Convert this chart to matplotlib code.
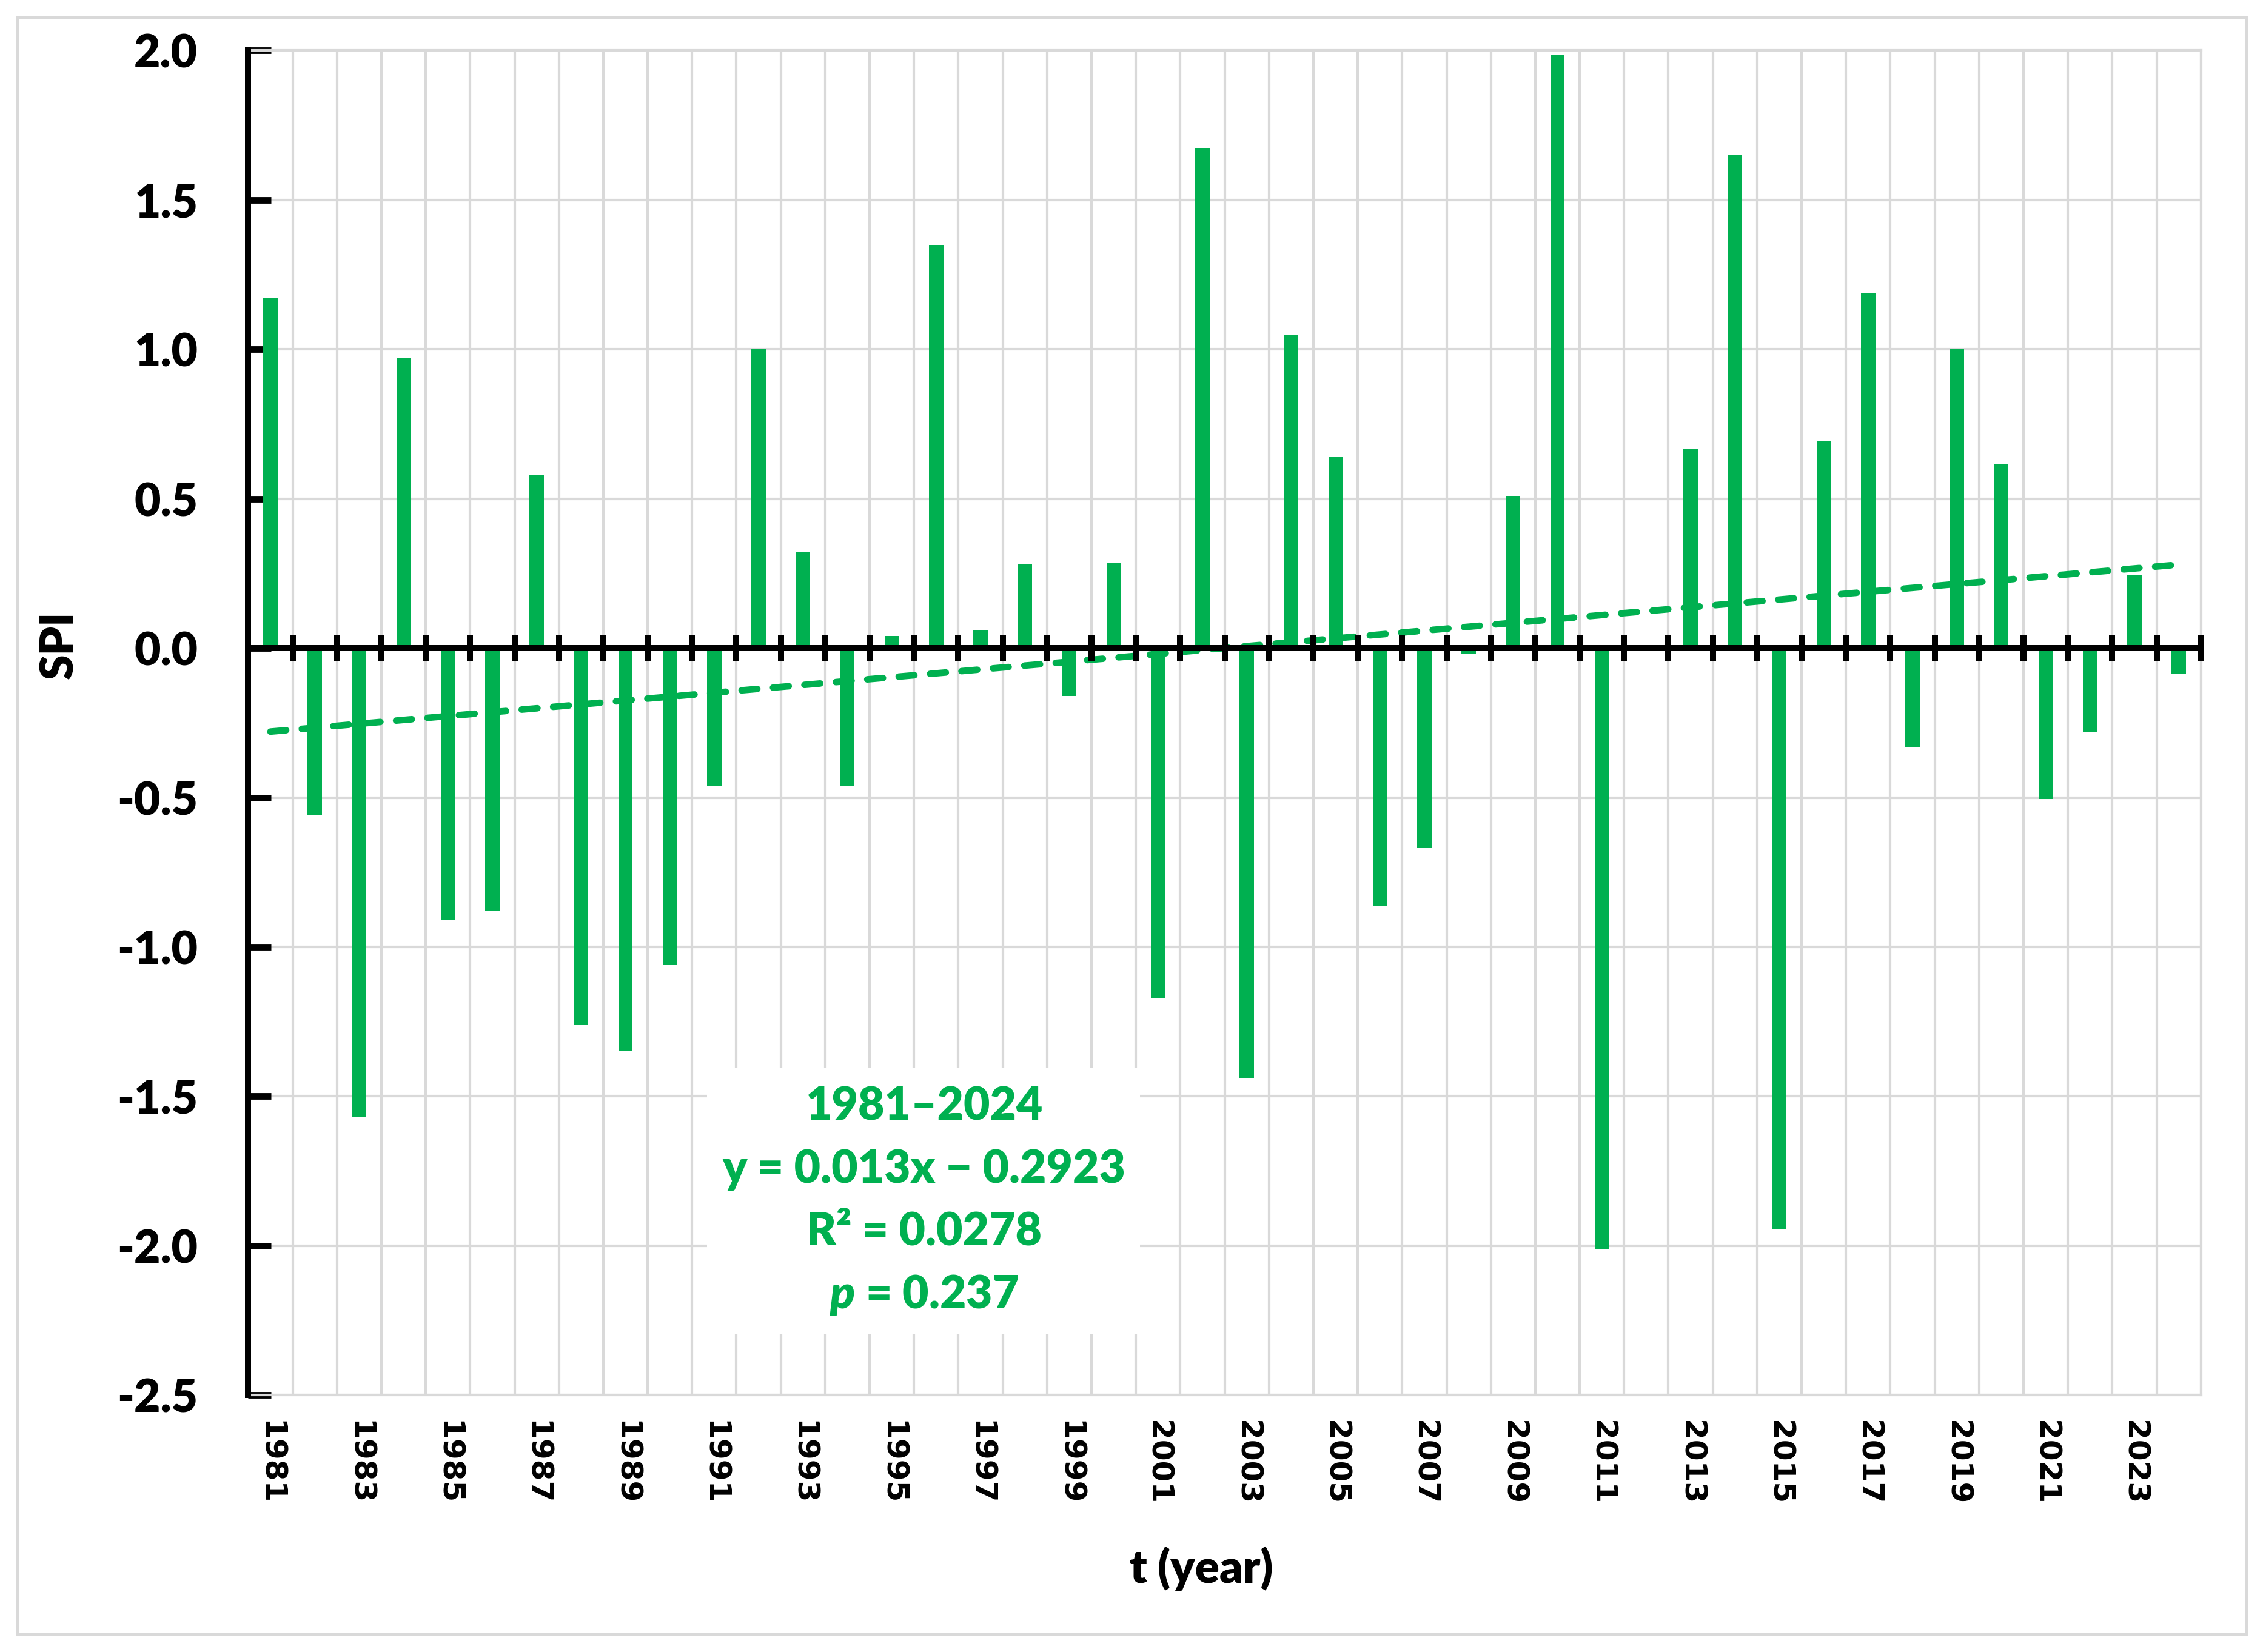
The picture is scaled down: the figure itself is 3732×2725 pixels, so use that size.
import numpy as np
import matplotlib
matplotlib.use("Agg")
import matplotlib.pyplot as plt
from matplotlib.patches import Rectangle

years = list(range(1981, 2025))
spi = [1.17, -0.56, -1.57, 0.97, -0.91, -0.88, 0.58, -1.26, -1.35, -1.06,
       -0.46, 1.00, 0.32, -0.46, 0.04, 1.35, 0.06, 0.28, -0.16, 0.285,
       -1.17, 1.675, -1.44, 1.05, 0.64, -0.865, -0.67, -0.02, 0.51, 1.985,
       -2.01, 0.0, 0.665, 1.65, -1.945, 0.695, 1.19, -0.33, 1.0, 0.615,
       -0.505, -0.28, 0.245, -0.085]
yticks = [-2.5, -2.0, -1.5, -1.0, -0.5, 0.0, 0.5, 1.0, 1.5, 2.0]
slope, intercept = 0.013, -0.2923
ann_lines = ["1981\u20132024", "y = 0.013x \u2212 0.2923", "R\u00b2 = 0.0278", "$p$ = 0.237"]

green = "#00B050"
grid_c = "#D9D9D9"
main_font = ["Lato", "DejaVu Sans"]
wt = "heavy"

plt.rcParams["font.family"] = main_font
plt.rcParams["font.weight"] = wt
plt.rcParams["mathtext.fontset"] = "custom"
plt.rcParams["mathtext.it"] = "Lato:italic:heavy"
plt.rcParams["mathtext.rm"] = "Lato:heavy"

fig = plt.figure(figsize=(3732 / 300, 2725 / 300), dpi=300)
ax = fig.add_axes([0.1097, 0.1555, 0.8629, 0.8139])

x = np.arange(len(years))
ax.bar(x, spi, width=0.32, color=green, zorder=2)

# trend line
xt = np.array([x[0], x[-1]])
ax.plot(xt, slope * (xt + 1) + intercept, color=green, lw=2.6,
        dashes=(2.4, 2.4), dash_capstyle="round", zorder=3)

ax.set_xlim(-0.5, len(years) - 0.5)
ax.set_ylim(-2.5, 2.0)

# gridlines at category boundaries
bounds = np.arange(len(years) + 1) - 0.5
ax.set_xticks(bounds)
ax.set_xticklabels([])
ax.set_xticks(x[::2], minor=True)
ax.set_xticklabels([str(y) for y in years[::2]], minor=True, rotation=-90,
                   family="DejaVu Sans", fontweight="bold", fontsize=12,
                   va="top", ha="center")
ax.tick_params(axis="x", which="both", length=0)
ax.tick_params(axis="x", which="minor", pad=10)
ax.grid(axis="x", which="major", color=grid_c, lw=1.0)
ax.grid(axis="y", color=grid_c, lw=1.0)
ax.set_axisbelow(True)

ax.set_yticks(yticks)
ax.set_yticklabels([f"{v:.1f}" for v in yticks], fontsize=18, fontweight=wt)
ax.tick_params(axis="y", which="major", direction="in", length=9, width=2.6,
               color="black", pad=20)

for s in ["top", "right", "bottom"]:
    ax.spines[s].set_color(grid_c)
    ax.spines[s].set_linewidth(1.0)
ax.spines["left"].set_linewidth(2.4)
ax.spines["left"].set_color("black")
ax.spines["left"].set_zorder(5)

# zero axis line with crossing ticks
ymin, ymax = ax.get_ylim()
sec = ax.secondary_xaxis((0 - ymin) / (ymax - ymin))
sec.set_xticks(bounds)
sec.set_xticklabels([])
sec.tick_params(direction="inout", length=10, width=2.4, color="black")
for s in ["top", "bottom"]:
    sec.spines[s].set_linewidth(2.4)
    sec.spines[s].set_color("black")
sec.set_zorder(4)

ax.set_ylabel("SPI", fontsize=18, fontweight=wt)
ax.yaxis.set_label_coords(-0.0857, 0.558)
ax.set_xlabel("t (year)", fontsize=18, fontweight=wt)
ax.xaxis.set_label_coords(0.488, -0.1127)

# annotation box
ax.add_patch(Rectangle((0.235, 0.045), 0.2217, 0.1985, transform=ax.transAxes,
                       facecolor="white", edgecolor="none", zorder=2.5))
ax.text(0.346, 0.144, "\n".join(ann_lines), transform=ax.transAxes,
        ha="center", va="center", multialignment="center", color=green,
        fontsize=18, fontweight=wt, linespacing=1.58, zorder=3.5)

# outer frame
fig.add_artist(Rectangle((0.0077, 0.0105), 0.985, 0.979, transform=fig.transFigure,
                         facecolor="none", edgecolor=grid_c, lw=1.2))

fig.savefig("out.png", dpi=300)
